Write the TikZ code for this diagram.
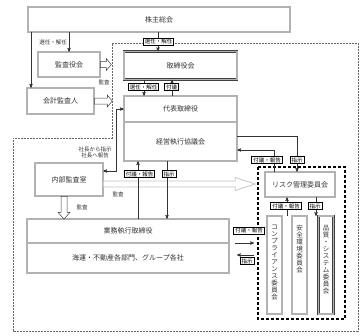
\documentclass[tikz,border=0pt]{standalone}
\usepackage{fontspec}
\setmainfont{Noto Sans CJK JP}
\usetikzlibrary{arrows}
\newcommand{\tatebox}[1]{\parbox[c][80pt][t]{8pt}{\centering #1}}

\begin{document}
\begin{tikzpicture}[x=1pt,y=-1pt,>=stealth',
    box/.style={draw=black!75,line width=0.5pt,double=gray!60,double distance=1.4pt,fill=white,
                inner sep=0pt,font=\fontsize{7}{8}\selectfont,text=black!80},
    tate/.style={box,minimum width=15,minimum height=98,font=\fontsize{6.5}{7}\selectfont},
    tag/.style={draw,line width=0.8pt,fill=white,inner xsep=1.5pt,inner ysep=1pt,
                font=\fontsize{5.5}{6}\selectfont},
    note/.style={font=\fontsize{5.5}{6.5}\selectfont,text=black!80,align=center},
    hollow/.style={draw=black!75,line width=0.5pt,fill=white},
    conn/.style={draw=black!80,line width=0.5pt}]

  \useasboundingbox (0,0) rectangle (364,335);

  % dashed frames
  \draw[draw=black!60,line width=0.6pt,dash pattern=on 2pt off 1pt]
    (112,43) -- (358,43) -- (358,331) -- (13,331) -- (13,138) -- (112,138) -- cycle;
  \draw[line width=1.1pt,dash pattern=on 3pt off 2pt] (258,167) rectangle (345,319);

  \node[box,minimum width=262,minimum height=25] (soukai) at (159,19.5) {株主総会};
  \node[box,minimum width=62,minimum height=25] (kansayaku) at (69,64.5) {監査役会};
  \node[box,minimum width=67,minimum height=26] (kaikei) at (60.5,101) {会計監査人};
  \node[box,minimum width=113,minimum height=28] (torishimari) at (180.5,65.5) {取締役会};
  \node[box,minimum width=113,minimum height=26] (daihyo) at (180.5,109) {代表取締役};
  \node[box,minimum width=113,minimum height=39] (keiei) at (180.5,141.5) {経営執行協議会};
  \node[box,minimum width=68,minimum height=33] (naibu) at (69,179.5) {内部監査室};
  \node[box,minimum width=202,minimum height=24] (gyomu) at (128,231) {業務執行取締役};
  \node[box,minimum width=202,minimum height=30] (kaiun) at (128,258) {海運・不動産各部門、グループ各社};
  \node[box,minimum width=70,minimum height=25] (risk) at (300,184.5) {リスク管理委員会};
  \node[tate] (comp) at (274.5,265) {\tatebox{コ\\ン\\プ\\ラ\\イ\\ア\\ン\\ス\\委\\員\\会}};
  \node[tate] (anzen) at (299.5,265) {\tatebox{安\\全\\環\\境\\委\\員\\会}};
  \node[tate] (hinshitsu) at (326,265) {\tatebox{品\\質\\・\\シ\\ス\\テ\\ム\\委\\員\\会}};

  % audit arrows
  \draw[hollow] (kansayaku.east) ++(0,-3) -- ++(6,0) -- ++(0,-3) -- ++(5,6) -- ++(-5,6)
    -- ++(0,-3) -- ++(-6,0) -- cycle;
  \draw[hollow] (kaikei.east) ++(0,-3) -- ++(13,0) -- ++(0,-3) -- ++(5,6) -- ++(-5,6)
    -- ++(0,-3) -- ++(-13,0) -- cycle;
  \draw[hollow] ([xshift=-5pt]naibu.south) ++(-3,0) -- ++(0,16) -- ++(-3,0) -- ++(6,7)
    -- ++(6,-7) -- ++(-3,0) -- ++(0,-16) -- cycle;
  \draw[draw=gray!45,line width=0.8pt,fill=white] ([yshift=-4.5pt]naibu.east) ++(0,-3)
    -- ++(132,0) -- ++(0,-3.5) -- ++(20,6.5) -- ++(-20,6.5) -- ++(0,-3.5) -- ++(-132,0) -- cycle;

  \coordinate (up1) at (287,216);
  \coordinate (dn1) at (316,216);
  \coordinate (r1) at (235,243);
  \coordinate (r2) at (254,243);
  \coordinate (l1) at (254,255);
  \coordinate (l2) at (237,255);

  \draw[conn,->] (soukai.south -| 158,0) -- (torishimari.north -| 158,0);
  \draw[conn,->] (soukai.south -| kansayaku.north) -- (kansayaku.north);
  \draw[conn,->] (soukai.south -| 31,0) -- (kaikei.north -| 31,0);
  \draw[conn,->] (torishimari.south -| 144,0) -- (daihyo.north -| 144,0);
  \draw[conn,->] (daihyo.north -| 172,0) -- (torishimari.south -| 172,0);
  \draw[conn,<->] ([yshift=8.5pt]naibu.east) -| ([xshift=-8pt]daihyo.west) -- (daihyo.west);
  \draw[conn,->] ([yshift=5.5pt]keiei.east) -| ([xshift=-3pt]risk.north);
  \draw[conn,->] ([xshift=-26pt]risk.north) |- ([yshift=-8.5pt]keiei.east);
  \draw[conn,->] (gyomu.north -| 138,0) -- (keiei.south -| 138,0);
  \draw[conn,->] (keiei.south -| 167,0) -- (gyomu.north -| 167,0);
  \draw[conn,->] (up1) -- (risk.south -| up1);
  \draw[conn,->] (risk.south -| dn1) -- (dn1);
  \draw[conn,->] (r1) -- (r2);
  \draw[conn,->] (l1) -- (l2);

  \node[tag] (t1) at (158.5,41.5) {選任・解任};
  \node[tag] (t2) at (143.5,87) {選任・解任};
  \node[tag] (t3) at (171.5,87) {付議};
  \node[tag] (t4) at (139.5,174) {付議・報告};
  \node[tag] (t5) at (169,174) {指示};
  \node[tag] (t6) at (267,160) {付議・報告};
  \node[tag] (t7) at (297,160) {指示};
  \node[tag] (t8) at (286,206) {付議・報告};
  \node[tag] (t9) at (315,206) {指示};
  \node[tag] (t10) at (249,230.5) {付議・報告};
  \node[tag] (t11) at (247,261) {指示};

  \node[note] (n1) at (53,42) {選任・解任};
  \node[note] (n2) at (104,82) {監査};
  \node[note] (n3) at (95,152.5) {社長から指示\\社長へ報告};
  \node[note] (n4) at (118,194) {監査};
  \node[note] (n5) at (82,207) {監査};
\end{tikzpicture}
\end{document}
